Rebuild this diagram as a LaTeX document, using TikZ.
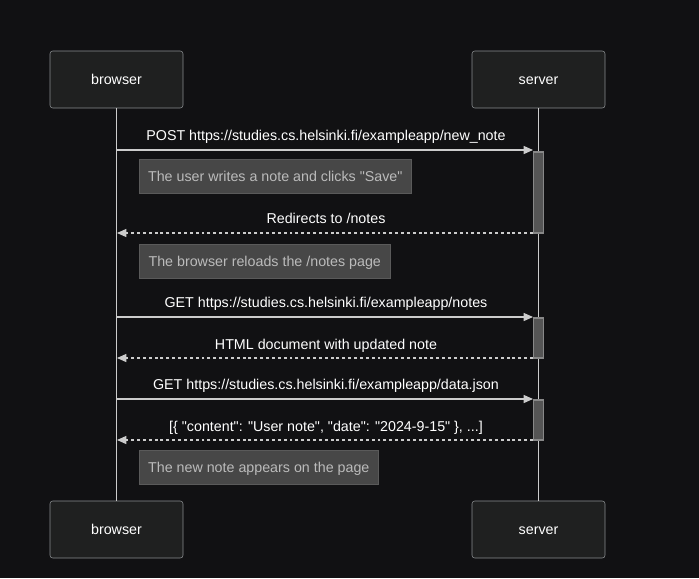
\documentclass[tikz,border=0pt]{standalone}
\usepackage{fontspec}
\setmainfont{Liberation Sans}
\usetikzlibrary{arrows.meta}
\definecolor{bg}{HTML}{111113}
\definecolor{actfill}{HTML}{1F2020}
\definecolor{actdraw}{HTML}{8A8D90}
\definecolor{linec}{HTML}{CCCCCC}
\definecolor{notefill}{HTML}{474747}
\definecolor{notedraw}{HTML}{5A5A5A}
\definecolor{notetext}{HTML}{BBBBBB}
\definecolor{actvfill}{HTML}{555555}
\definecolor{actvdraw}{HTML}{888888}
\newcommand{\qq}{\textquotedbl}
\begin{document}
\begin{tikzpicture}[x=0.75pt,y=-0.75pt,
  txt/.style={font=\fontsize{10.7}{13}\selectfont,text height=9pt,text depth=1.2pt},
  actor/.style={txt,draw=actdraw,fill=actfill,rounded corners=2pt,minimum width=133*0.75pt,minimum height=57*0.75pt,inner sep=0pt,text=white},
  notebox/.style={txt,draw=notedraw,fill=notefill,text=notetext,anchor=north west,inner sep=0pt,minimum height=34*0.75pt},
  msg/.style={txt,text=white,inner sep=0pt},
  req/.style={draw=linec,line width=1pt,-{Triangle[length=7pt,width=6pt]}},
  resp/.style={draw=linec,line width=1pt,dash pattern=on 2.2pt off 2.2pt,-{Triangle[length=7pt,width=6pt]}},
  life/.style={draw=linec,line width=0.8pt},
  actv/.style={draw=actvdraw,fill=actvfill,line width=0.8pt}]
\fill[bg] (0,0) rectangle (699,578);
\useasboundingbox (0,0) rectangle (699,578);
% actors
\node[actor] (bt) at (116.5,79.5) {browser};
\node[actor] (st) at (538.5,79.5) {server};
\node[actor] (bb) at (116.5,529.5) {browser};
\node[actor] (sb) at (538.5,529.5) {server};
\draw[life] (bt.south) -- (bb.north);
\draw[life] (st.south) -- (sb.north);
% activations
\draw[actv] (533.5,152) rectangle (543.5,233);
\draw[actv] (533.5,318) rectangle (543.5,358);
\draw[actv] (533.5,400) rectangle (543.5,440);
% coordinates for messages
\coordinate (b1) at (117,150); \coordinate (s1) at (533,150);
\coordinate (b2) at (117,233); \coordinate (s2) at (533,233);
\coordinate (b3) at (117,317); \coordinate (s3) at (533,317);
\coordinate (b4) at (117,358); \coordinate (s4) at (533,358);
\coordinate (b5) at (117,399); \coordinate (s5) at (533,399);
\coordinate (b6) at (117,440); \coordinate (s6) at (533,440);
\draw[req] (b1) -- (s1);
\draw[resp] (s2) -- (b2);
\draw[req] (b3) -- (s3);
\draw[resp] (s4) -- (b4);
\draw[req] (b5) -- (s5);
\draw[resp] (s6) -- (b6);
\node[msg] (m1) at (326,135) {POST https://studies.cs.helsinki.fi/exampleapp/new\_note};
\node[msg] (m2) at (326,218) {Redirects to /notes};
\node[msg] (m3) at (326,302) {GET https://studies.cs.helsinki.fi/exampleapp/notes};
\node[msg] (m4) at (326,344) {HTML document with updated note};
\node[msg] (m5) at (326,384) {GET https://studies.cs.helsinki.fi/exampleapp/data.json};
\node[msg] (m6) at (326,426) {[\{ \qq content\qq: \qq User note\qq, \qq date\qq: \qq 2024-9-15\qq\ \}, ...]};
% notes
\node[notebox,minimum width=272*0.75pt] (n1) at (139,159) {The user writes a note and clicks \qq Save\qq};
\node[notebox,minimum width=251*0.75pt] (n2) at (139,244) {The browser reloads the /notes page};
\node[notebox,minimum width=239*0.75pt] (n3) at (139,450) {The new note appears on the page};
\end{tikzpicture}
\end{document}
